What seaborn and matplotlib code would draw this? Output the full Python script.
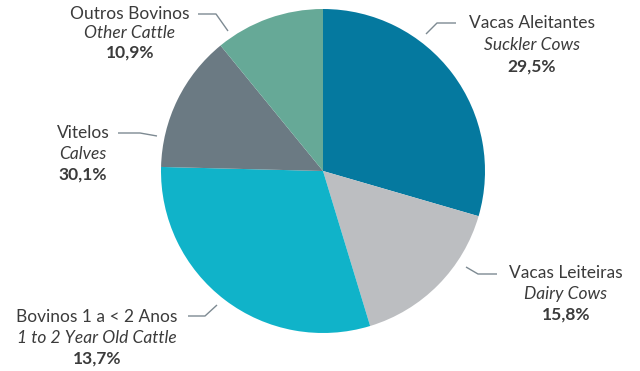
import matplotlib
matplotlib.use("Agg")
import matplotlib.pyplot as plt
import seaborn as sns

# Cattle population by category (% of total)
categories = ["Vacas Aleitantes", "Vacas Leiteiras", "Vitelos",
              "Bovinos 1 a < 2 Anos", "Outros Bovinos"]
english = ["Suckler Cows", "Dairy Cows", "Calves",
           "1 to 2 Year Old Cattle", "Other Cattle"]
shares = [29.5, 15.8, 30.1, 13.7, 10.9]

colors = ["#05799f", "#bcbec1", "#10b3c9", "#6b7a83", "#66a997"]

sns.set_theme(style="white")
plt.rcParams["font.family"] = ["Lato", "DejaVu Sans"]

W, H = 640, 371
fig = plt.figure(figsize=(W / 100, H / 100), dpi=100)
ax = fig.add_axes([0, 0, 1, 1])


def py(y):
    """Convert a top-down pixel row to the axes' y coordinate."""
    return H - y


ax.pie(shares, colors=colors, startangle=90, counterclock=False,
       center=(323, py(171)), radius=162,
       wedgeprops=dict(linewidth=0))

# pie() resets the limits, so fix the canvas afterwards
ax.set_xlim(0, W)
ax.set_ylim(0, H)
ax.set_aspect("equal")
ax.axis("off")

# label block centre x, row of each of its three lines, leader polyline
label_layout = {
    "Vacas Aleitantes": (532, (23, 45, 67), [(426, 34), (437, 23), (456, 23)]),
    "Vacas Leiteiras": (566, (273, 294, 315), [(466, 267), (478, 274), (497, 274)]),
    "Vitelos": (83, (133, 154, 175), [(118, 133), (140, 133), (157, 136)]),
    "Bovinos 1 a < 2 Anos": (97, (317, 338, 359), [(188, 316), (205, 316), (217, 305)]),
    "Outros Bovinos": (130, (14, 33, 53), [(198, 14), (216, 14), (228, 31)]),
}

text_color = "#3b3b3b"
line_color = "#7d8a92"
fs = 12.5

for name, eng, val in zip(categories, english, shares):
    cx, rows, leader = label_layout[name]
    ax.text(cx, py(rows[0]), name, ha="center", va="center",
            fontsize=fs, color=text_color)
    ax.text(cx, py(rows[1]), eng, ha="center", va="center",
            fontsize=fs, color=text_color, style="italic")
    ax.text(cx, py(rows[2]), f"{val:.1f}%".replace(".", ","),
            ha="center", va="center", fontsize=fs, color=text_color,
            fontweight="bold")
    xs = [p[0] for p in leader]
    ys = [py(p[1]) for p in leader]
    ax.plot(xs, ys, color=line_color, lw=1.0, solid_capstyle="butt")

fig.savefig("out.png", dpi=100)
